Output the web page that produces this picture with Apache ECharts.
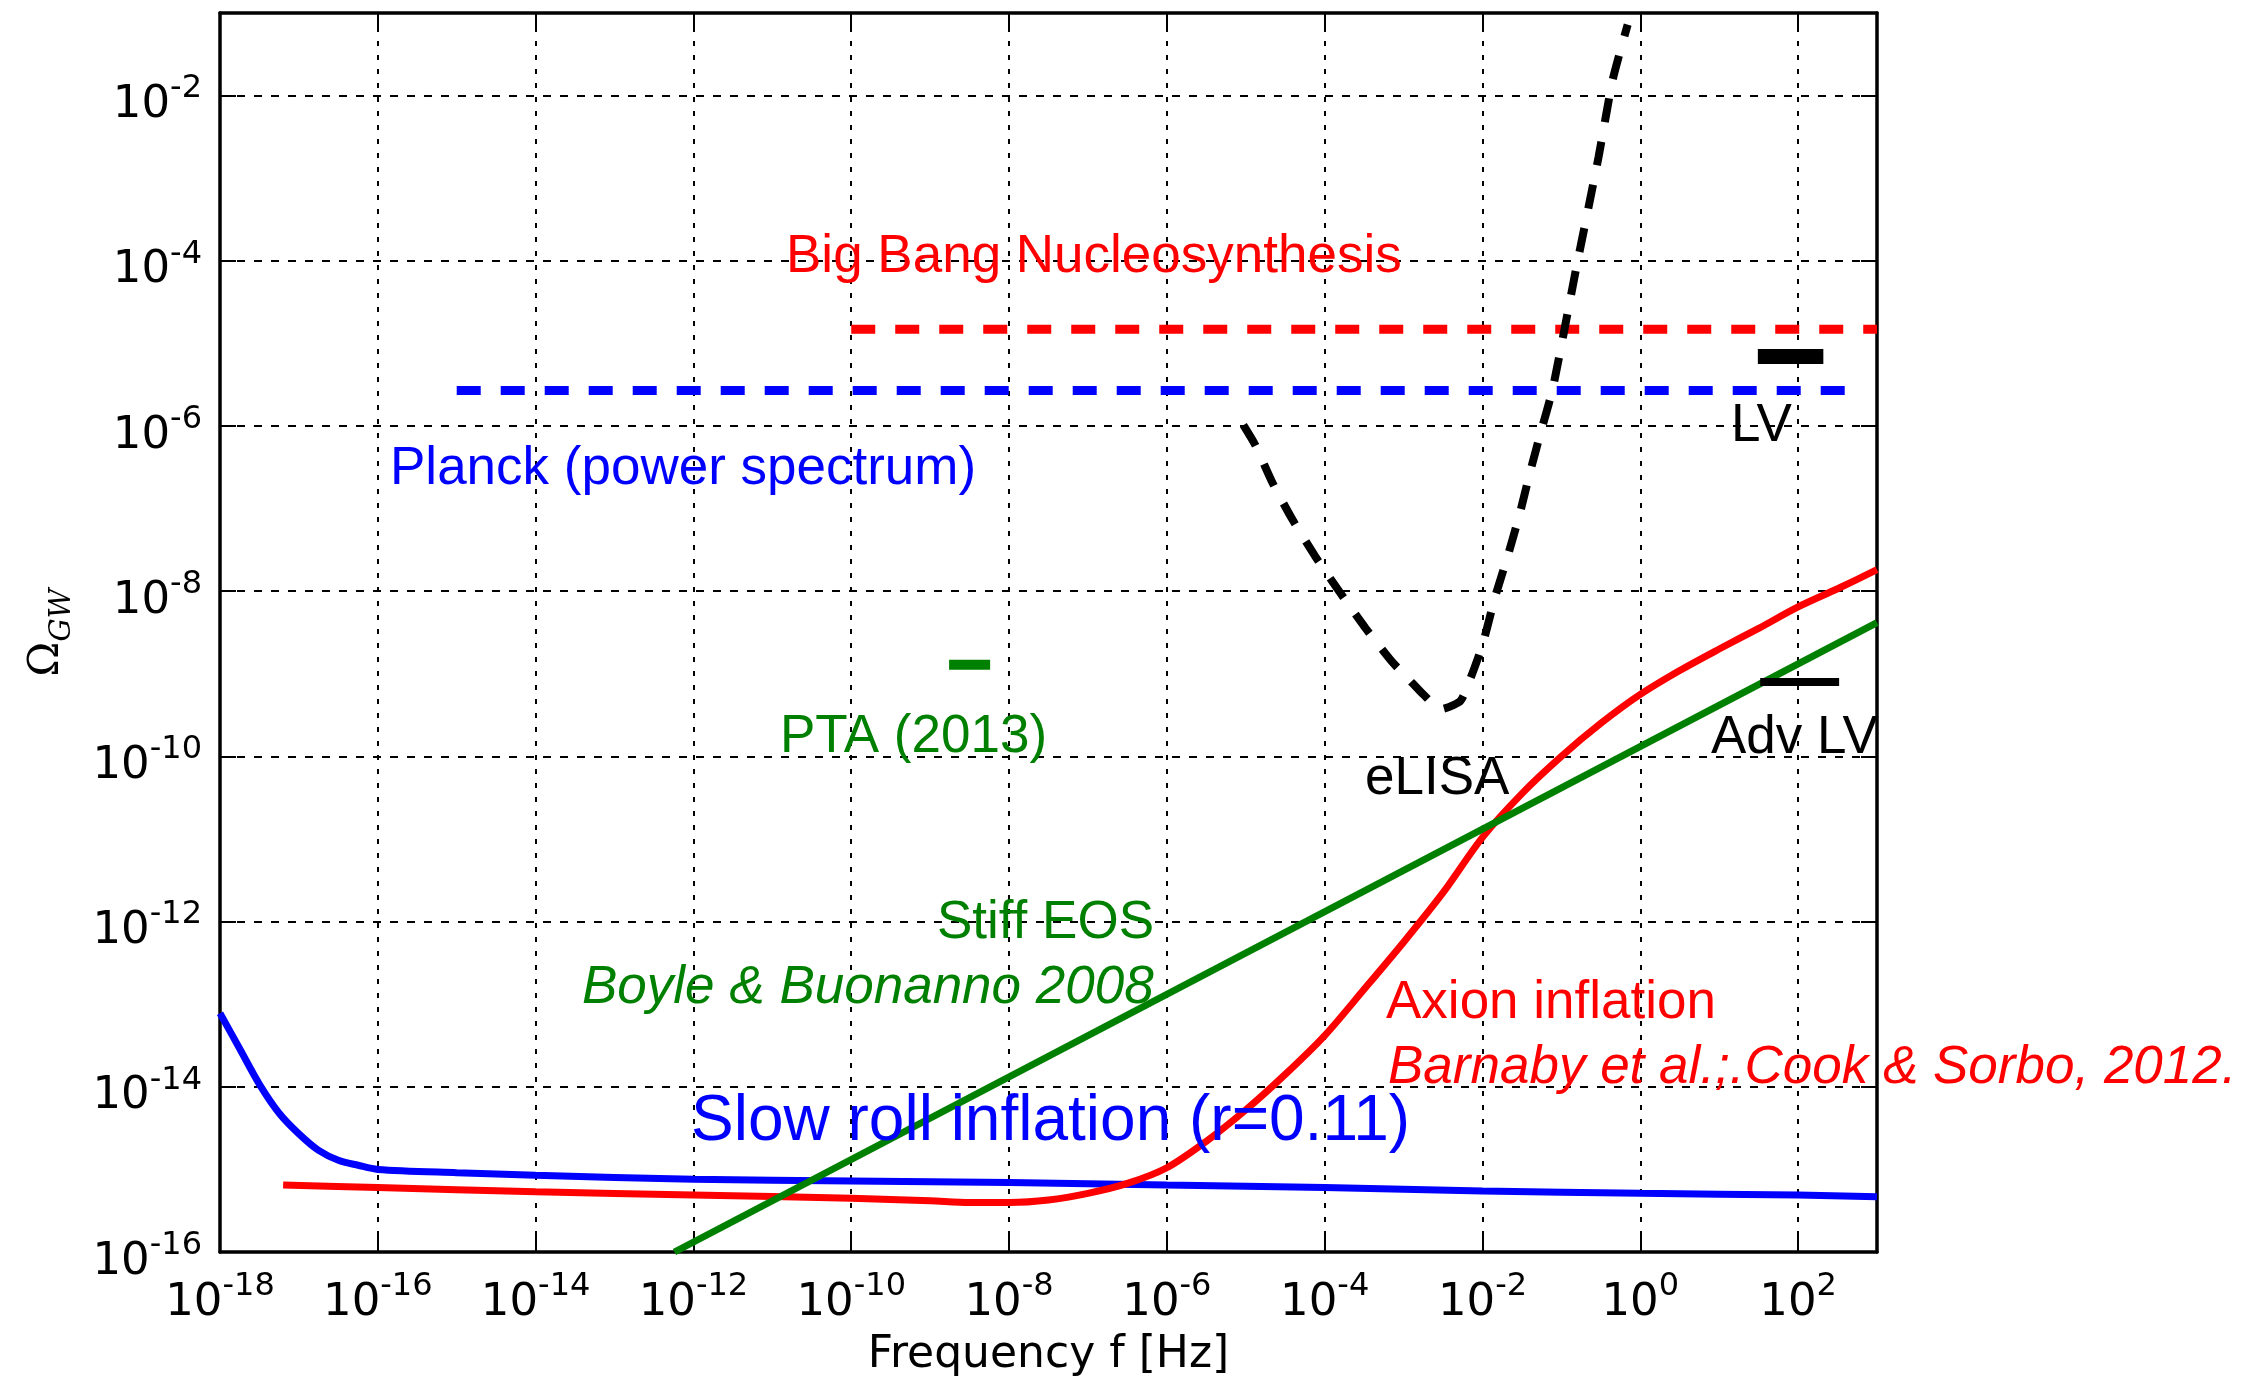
<!DOCTYPE html>
<html><head><meta charset="utf-8">
<script src="https://cdn.jsdelivr.net/npm/echarts@6/dist/echarts.min.js"></script>
<style>html,body{margin:0;padding:0;background:#fff}#c{width:2268px;height:1379px}</style>
</head><body><div id="c"></div>
<script>
// All values are log10 (frequency in Hz, Omega_GW).
const xTickExps = [-18,-16,-14,-12,-10,-8,-6,-4,-2,0,2];
const yTickExps = [-16,-14,-12,-10,-8,-6,-4,-2];

const slowRollLogF = [-18,-17.75,-17.5,-17.25,-17,-16.75,-16.5,-16.25,-16,-15,-14,-12,-10,-8,-6,-4,-2,0,2,3];
const slowRollLogO = [-13.11,-13.54,-13.97,-14.32,-14.57,-14.77,-14.89,-14.95,-15.0,-15.04,-15.07,-15.12,-15.14,-15.16,-15.19,-15.22,-15.26,-15.29,-15.31,-15.33];

const axionLogF = [-17.2,-16,-14,-12,-10,-9,-8.5,-8,-7.5,-7,-6.5,-6,-5.5,-5,-4.5,-4,-3.5,-3,-2.5,-2,-1.5,-1,-0.5,0,0.5,1,1.5,2,2.5,3];
const axionLogO = [-15.19,-15.22,-15.27,-15.31,-15.35,-15.38,-15.40,-15.40,-15.37,-15.29,-15.17,-14.98,-14.66,-14.28,-13.85,-13.38,-12.82,-12.25,-11.65,-10.98,-10.45,-10.0,-9.60,-9.25,-8.96,-8.70,-8.45,-8.19,-7.97,-7.74];

const stiffLogF = [-12.24, 3];
const stiffLogO = [-16.0, -8.38];

const bbnLogF = [-10, 3];
const bbnLogO = [-4.83, -4.83];

const planckLogF = [-15, 2.8];
const planckLogO = [-5.57, -5.57];

const elisaLogF = [-5.03,-4.88,-4.66,-4.41,-4.125,-3.81,-3.48,-3.15,-2.93,-2.75,-2.53,-2.28,-2.15,-2.0,-1.84,-1.685,-1.53,-1.40,-1.26,-1.11,-0.81,-0.53,-0.35,-0.16];
const elisaLogO = [-5.99,-6.23,-6.69,-7.13,-7.57,-8.01,-8.45,-8.85,-9.07,-9.25,-9.43,-9.33,-9.05,-8.65,-8.07,-7.59,-7.07,-6.57,-6.07,-5.55,-4.08,-2.75,-1.81,-1.14];

const lvLogF = [1.49, 2.32];
const lvLogO = [-5.16, -5.16];

const advLvLogF = [1.52, 2.52];
const advLvLogO = [-9.10, -9.10];

const ptaLogF = [-8.76, -8.24];
const ptaLogO = [-8.89, -8.89];

const labelTexts = {
  bbn: 'Big Bang Nucleosynthesis',
  planck: 'Planck (power spectrum)',
  lv: 'LV',
  elisa: 'eLISA',
  advlv: 'Adv LV',
  pta: 'PTA (2013)',
  stiff: 'Stiff EOS',
  boyle: 'Boyle & Buonanno 2008',
  axion: 'Axion inflation',
  barnaby: 'Barnaby et al.;.Cook & Sorbo, 2012.',
  slow: 'Slow roll inflation (r=0.11)'
};

const pairs = (a, b) => a.map((v, i) => [v, b[i]]);

const chart = echarts.init(document.getElementById('c'), null, {renderer: 'canvas'});

function tickRich(padBottom, align) {
  return {
    b: {fontSize: 45, fontFamily: 'DejaVu Sans', color: '#000', lineHeight: 45, padding: [10, 0, padBottom, 0], verticalAlign: 'top', align: align},
    s: {fontSize: 32, fontFamily: 'DejaVu Sans', color: '#000', lineHeight: 32, verticalAlign: 'top', align: align}
  };
}
function fmt(list) {
  return function (v) {
    const e = Math.round(v);
    if (list.indexOf(e) < 0) return '';
    return '{b|10}{s|' + e + '}';
  };
}

function line(name, data, color, width, dash, smooth) {
  return {
    name, type: 'line', data, showSymbol: false, symbol: 'none', smooth: smooth || false,
    lineStyle: {color, width, type: dash || 'solid', cap: 'butt'},
    silent: true, animation: false, clip: true, z: 3
  };
}

const labelFont = '"Liberation Sans", Arial, sans-serif';
function txt(text, x, y, color, size, italic) {
  return {
    type: 'text', x: x, y: y, z: 100, silent: true,
    style: {
      text: text, fill: color,
      font: (italic ? 'italic ' : '') + size + 'px ' + labelFont,
      textAlign: 'left', textVerticalAlign: 'middle'
    }
  };
}

const axisCommon = {
  type: 'value',
  axisLine: {show: true, onZero: false, lineStyle: {color: '#000', width: 3.5}},
  axisTick: {show: true, inside: true, length: 16, lineStyle: {color: '#000', width: 2}}
};

chart.setOption({
  backgroundColor: '#fff',
  animation: false,
  grid: {left: 220, right: 391, top: 13, bottom: 127, containLabel: false, outerBoundsMode: 'none'},
  xAxis: [
    Object.assign({}, axisCommon, {
      position: 'bottom', min: -18, max: 3, interval: 2,
      axisLabel: {show: true, margin: 19, formatter: fmt(xTickExps), rich: tickRich(0, 'left')},
      splitLine: {show: true, lineStyle: {color: '#000', width: 2, type: [5, 9]}},
      name: 'Frequency f [Hz]', nameLocation: 'middle', nameGap: 82,
      nameTextStyle: {fontFamily: 'DejaVu Sans', fontSize: 44, color: '#000'}
    }),
    Object.assign({}, axisCommon, {
      position: 'top', min: -18, max: 3, interval: 2,
      axisLabel: {show: false}, splitLine: {show: false}
    })
  ],
  yAxis: [
    Object.assign({}, axisCommon, {
      position: 'left', min: -16, max: -1, interval: 2,
      axisLabel: {show: true, margin: 18, align: 'right', formatter: fmt(yTickExps), rich: tickRich(26, 'right')},
      splitLine: {show: true, lineStyle: {color: '#000', width: 2, type: [8, 9]}},
      name: '{o|Ω}{s|GW}', nameLocation: 'middle', nameRotate: 90, nameGap: 152,
      nameTextStyle: {
        rich: {
          o: {fontFamily: 'DejaVu Serif', fontSize: 42, color: '#000', lineHeight: 42, verticalAlign: 'top'},
          s: {fontFamily: 'DejaVu Serif', fontStyle: 'italic', fontSize: 29, color: '#000', lineHeight: 29, padding: [22, 0, 0, 0], verticalAlign: 'top'}
        }
      }
    }),
    Object.assign({}, axisCommon, {
      position: 'right', min: -16, max: -1, interval: 2,
      axisLabel: {show: false}, splitLine: {show: false}
    })
  ],
  series: [
    line('Slow roll', pairs(slowRollLogF, slowRollLogO), '#0000ff', 7, null, 0.3),
    line('Axion', pairs(axionLogF, axionLogO), '#ff0000', 7, null, 0.3),
    line('Stiff EOS', pairs(stiffLogF, stiffLogO), '#008000', 7),
    line('BBN', pairs(bbnLogF, bbnLogO), '#ff0000', 9, [24, 20]),
    line('Planck', pairs(planckLogF, planckLogO), '#0000ff', 9, [24, 20]),
    line('eLISA', pairs(elisaLogF, elisaLogO), '#000000', 8, [24, 20], 0.2),
    line('LV', pairs(lvLogF, lvLogO), '#000000', 15),
    line('Adv LV', pairs(advLvLogF, advLvLogO), '#000000', 8),
    line('PTA', pairs(ptaLogF, ptaLogO), '#008000', 10)
  ],
  graphic: {elements: [
    txt(labelTexts.bbn, 786, 257, '#ff0000', 53),
    txt(labelTexts.planck, 390, 469, '#0000ff', 53),
    txt(labelTexts.lv, 1731, 426, '#000', 53),
    txt(labelTexts.elisa, 1365, 779, '#000', 53),
    txt(labelTexts.advlv, 1711, 738, '#000', 53),
    txt(labelTexts.pta, 780, 737, '#008000', 53),
    txt(labelTexts.stiff, 937, 923, '#008000', 53),
    txt(labelTexts.boyle, 582, 988, '#008000', 53, true),
    txt(labelTexts.axion, 1386, 1003, '#ff0000', 53),
    txt(labelTexts.barnaby, 1388, 1068, '#ff0000', 53, true),
    txt(labelTexts.slow, 691, 1122, '#0000ff', 64)
  ]}
});
</script>
</body></html>
